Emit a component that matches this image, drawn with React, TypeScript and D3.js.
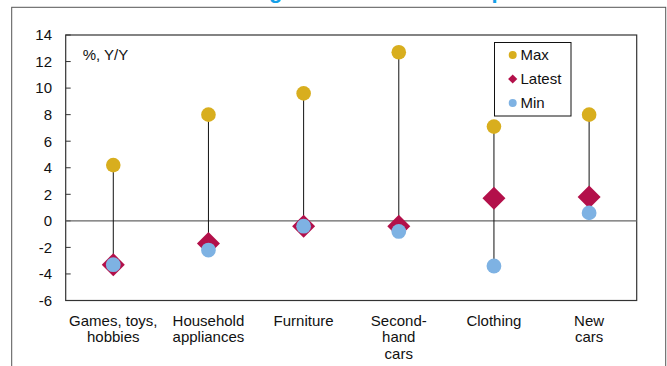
import React from "react";
import * as d3 from "d3";

// Year-on-year price change ranges for durable goods categories
const categories = ["Games, toys, hobbies", "Household appliances", "Furniture", "Second-hand cars", "Clothing", "New cars"];
const categoryLines = [["Games, toys,", "hobbies"], ["Household", "appliances"], ["Furniture"], ["Second-", "hand", "cars"], ["Clothing"], ["New", "cars"]];
const maxValues = [4.2, 8.0, 9.6, 12.7, 7.1, 8.0];
const latestValues = [-3.3, -1.7, -0.4, -0.4, 1.7, 1.8];
const minValues = [-3.3, -2.2, -0.4, -0.8, -3.4, 0.6];
const yTicks = [-6, -4, -2, 0, 2, 4, 6, 8, 10, 12, 14];
const legendItems = ["Max", "Latest", "Min"];

const W = 667;
const H = 366;
const FONT = "'Liberation Sans', Arial, sans-serif";
const COLORS = { Max: "#D8AE1E", Latest: "#B3104A", Min: "#7EB2E3" };

const plot = { left: 65.7, right: 636.7, top: 35, bottom: 300.5 };

export default function App() {
  const x = d3.scaleBand<string>().domain(categories).range([plot.left, plot.right]);
  const y = d3.scaleLinear().domain([-6, 14]).range([plot.bottom, plot.top]);
  const cx = (c: string) => (x(c) as number) + x.bandwidth() / 2;

  const diamond = (half: number) => d3.symbol().type(d3.symbolSquare).size(2 * half * half)();
  const bigDiamond = diamond(11.5) as string;
  const smallDiamond = diamond(4.6) as string;

  return (
    <svg width={W} height={H} style={{ position: "absolute", left: 0, top: 0, background: "#fff" }} fontFamily={FONT}>
      {/* title, mostly above the visible area */}
      <text x={181} y={-2.5} fill="#14A0E8" fontSize={22} fontWeight="bold">Durable goods: inflation hit a peak</text>

      {/* outer frame */}
      <rect x={11.7} y={7.3} width={654} height={400} fill="none" stroke="#555" strokeWidth={1} />

      {/* plot box */}
      <rect x={plot.left} y={plot.top} width={plot.right - plot.left} height={plot.bottom - plot.top} fill="none" stroke="#333" strokeWidth={1.2} />

      {/* y ticks and labels */}
      {yTicks.map((t) => (
        <g key={t}>
          <line x1={plot.left} x2={plot.left + 5} y1={y(t)} y2={y(t)} stroke="#333" strokeWidth={1} />
          <text x={52} y={y(t) + 5.3} textAnchor="end" fontSize={15} fill="#111">{t}</text>
        </g>
      ))}

      {/* zero line */}
      <line x1={plot.left} x2={plot.right} y1={y(0)} y2={y(0)} stroke="#666" strokeWidth={1.3} />

      <text x={82.7} y={60} fontSize={15} fill="#111">%, Y/Y</text>

      {/* stems */}
      {categories.map((c, i) => (
        <line key={c} x1={cx(c)} x2={cx(c)} y1={y(maxValues[i])} y2={y(Math.min(latestValues[i], minValues[i]))} stroke="#111" strokeWidth={1} />
      ))}

      {/* max markers */}
      {categories.map((c, i) => (
        <circle key={c} cx={cx(c)} cy={y(maxValues[i])} r={7.3} fill={COLORS.Max} />
      ))}
      {/* latest markers */}
      {categories.map((c, i) => (
        <path key={c} d={bigDiamond} transform={`translate(${cx(c)},${y(latestValues[i])}) rotate(45)`} fill={COLORS.Latest} />
      ))}
      {/* min markers */}
      {categories.map((c, i) => (
        <circle key={c} cx={cx(c)} cy={y(minValues[i])} r={7.4} fill={COLORS.Min} />
      ))}

      {/* category labels */}
      {categories.map((c, i) => (
        <text key={c} x={cx(c)} y={325.7} textAnchor="middle" fontSize={15} fill="#111">
          {categoryLines[i].map((ln, j) => (
            <tspan key={j} x={cx(c)} dy={j === 0 ? 0 : 16.5}>{ln}</tspan>
          ))}
        </text>
      ))}

      {/* legend */}
      <rect x={494.5} y={42.5} width={76.5} height={73.5} fill="#fff" stroke="#111" strokeWidth={1} />
      {legendItems.map((name, i) => {
        const ly = 55 + i * 24;
        return (
          <g key={name}>
            {name === "Latest" ? (
              <path d={smallDiamond} transform={`translate(512.7,${ly}) rotate(45)`} fill={COLORS.Latest} />
            ) : (
              <circle cx={512.7} cy={ly} r={4} fill={COLORS[name as "Max" | "Min"]} />
            )}
            <text x={520.5} y={ly + 5.3} fontSize={15} fill="#111">{name}</text>
          </g>
        );
      })}
    </svg>
  );
}
